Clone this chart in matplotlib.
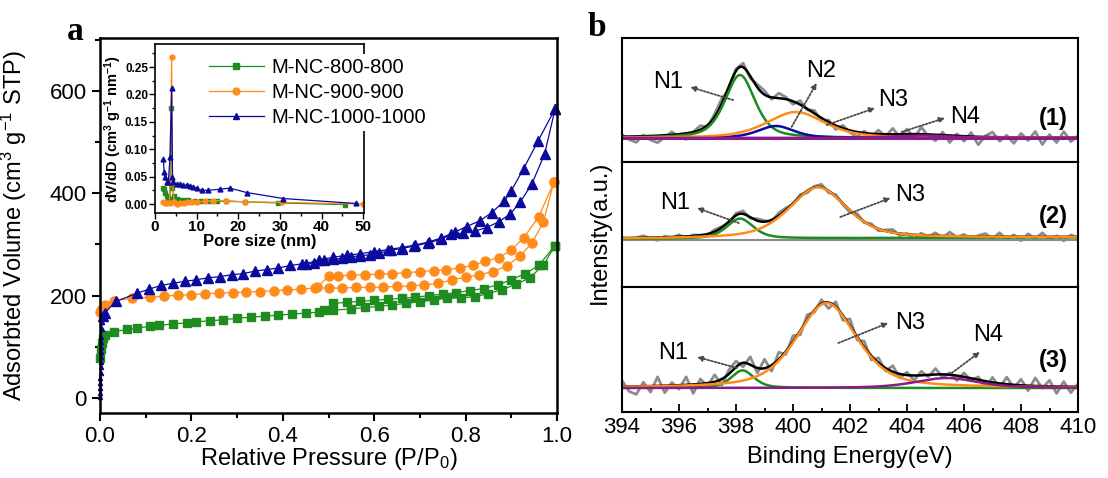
import numpy as np
import matplotlib.pyplot as plt
from matplotlib.ticker import MultipleLocator, FormatStrFormatter

plt.rcParams['font.family'] = ['Liberation Sans', 'DejaVu Sans']
plt.rcParams['mathtext.default'] = 'regular'

# ---------------- (a) N2 isotherms ----------------
p800_ads = [0.001, 0.002, 0.004, 0.007, 0.012, 0.03, 0.06, 0.08, 0.11, 0.13, 0.16, 0.19, 0.21, 0.24, 0.27,
            0.30, 0.33, 0.36, 0.39, 0.42, 0.45, 0.48, 0.51, 0.55, 0.58, 0.61, 0.64, 0.67, 0.70, 0.73,
            0.76, 0.79, 0.82, 0.85, 0.88, 0.91, 0.94, 0.97, 0.995]
v800_ads = [78, 96, 108, 117, 123, 130, 134, 137, 140, 142, 145, 147, 149, 151, 153,
            156, 158, 160, 162, 164, 166, 168, 172, 174, 177, 179, 182, 185, 188, 192,
            195, 196, 198, 204, 212, 222, 235, 259, 297]
p800_des = [0.995, 0.96, 0.93, 0.90, 0.87, 0.84, 0.81, 0.78, 0.75, 0.72, 0.69, 0.66, 0.63, 0.60, 0.57,
            0.54, 0.51, 0.49]
v800_des = [297, 259, 243, 231, 221, 214, 210, 206, 203, 200, 197, 195, 193, 191, 189,
            187, 185, 172]

p900_ads = [0.001, 0.003, 0.006, 0.012, 0.03, 0.07, 0.11, 0.14, 0.17, 0.20, 0.23, 0.26, 0.29, 0.32, 0.35,
            0.38, 0.41, 0.44, 0.47, 0.50, 0.53, 0.56, 0.59, 0.62, 0.65, 0.68, 0.71, 0.74, 0.77, 0.80,
            0.83, 0.86, 0.89, 0.92, 0.945, 0.97, 0.993]
v900_ads = [168, 173, 177, 182, 190, 195, 197, 199, 201, 202, 204, 205, 206, 207, 208,
            210, 211, 213, 215, 215, 215, 216, 216, 217, 218, 219, 221, 224, 231, 236,
            241, 247, 258, 278, 303, 343, 421]
p900_des = [0.993, 0.96, 0.927, 0.90, 0.872, 0.842, 0.816, 0.787, 0.758, 0.73, 0.70, 0.67, 0.64, 0.61,
            0.58, 0.55, 0.52, 0.50, 0.475]
v900_des = [421, 354, 313, 289, 274, 267, 259, 254, 251, 249, 247, 245, 243, 242,
            241, 240, 239, 238, 216]

# dense low-pressure points of M-NC-1000-1000
p1000_low = [0.0002, 0.0004, 0.0006, 0.0008, 0.001, 0.0012, 0.0014, 0.0016, 0.0018, 0.002, 0.0024,
             0.0028, 0.0032, 0.004, 0.005]
v1000_low = [2, 10, 20, 30, 40, 50, 60, 70, 80, 90, 100, 110, 120, 135, 148]
p1000_ads = [0.006, 0.01, 0.035, 0.082, 0.108, 0.134, 0.159, 0.185, 0.211, 0.236, 0.262, 0.288, 0.313,
             0.339, 0.365, 0.39, 0.416, 0.442, 0.468, 0.49, 0.51, 0.53, 0.55, 0.57, 0.59, 0.61, 0.637,
             0.66, 0.688, 0.717, 0.747, 0.769, 0.794, 0.82, 0.846, 0.872, 0.897, 0.919, 0.945, 0.973, 0.996]
v1000_ads = [160, 166, 189, 205, 213, 220, 224, 228, 231, 235, 237, 241, 243,
             248, 251, 254, 259, 262, 264, 269, 271, 273, 276, 278, 280, 283, 289,
             292, 297, 303, 310, 320, 322, 326, 333, 344, 359, 382, 418, 477, 565]
p1000_des = [0.996, 0.958, 0.927, 0.90, 0.885, 0.857, 0.831, 0.802, 0.776, 0.747, 0.72, 0.69, 0.66,
             0.63, 0.60, 0.57, 0.54, 0.51, 0.48, 0.45]
v1000_des = [565, 501, 448, 405, 385, 362, 346, 335, 324, 313, 305, 299, 294,
             290, 286, 282, 279, 275, 270, 262]

# inset: pore size distribution (nm, cm3 g-1 nm-1)
d800 = [1.9, 2.1, 2.4, 2.8, 3.2, 3.6, 3.9, 4.2, 4.5, 5.2, 6.0, 7.0, 8.0, 9.5, 11.0, 13.0, 15.0, 17.0,
        21.5, 29.5, 45.6]
dv800 = [0.030, 0.027, 0.020, 0.014, 0.011, 0.010, 0.175, 0.030, 0.014, 0.010, 0.008, 0.007, 0.007,
         0.006, 0.006, 0.006, 0.005, 0.005, 0.004, 0.002, -0.001]
d900 = [2.0, 2.5, 3.0, 3.5, 4.0, 4.2, 4.6, 5.4, 6.0, 7.0, 8.0, 9.0, 10.0, 12.0, 14.0, 17.0, 21.5, 30.5, 50.0]
dv900 = [0.003, 0.001, 0.001, 0.002, 0.268, 0.040, 0.003, 0.000, 0.001, 0.002, 0.003, 0.004, 0.004,
         0.005, 0.006, 0.006, 0.004, 0.003, 0.000]
d1000 = [2.0, 2.2, 2.4, 2.8, 3.2, 3.6, 4.0, 4.2, 4.4, 5.2, 6.0, 6.8, 7.6, 8.4, 9.2, 10.0, 11.2, 12.8,
         15.6, 18.0, 22.0, 30.8, 48.3]
dv1000 = [0.082, 0.059, 0.050, 0.041, 0.040, 0.085, 0.211, 0.050, 0.040, 0.036, 0.036, 0.035, 0.034,
          0.033, 0.031, 0.029, 0.025, 0.025, 0.027, 0.029, 0.021, 0.010, 0.001]

names = ['M-NC-800-800', 'M-NC-900-900', 'M-NC-1000-1000']

# ---------------- (b) N 1s XPS ----------------
# fitted peaks: centre (eV), height (a.u.), FWHM (eV)
s1_center = [398.14, 399.4, 400.1, 404.5]
s1_height = [63, 12, 26, 2.5]
s1_fwhm = [1.25, 1.5, 2.4, 2.5]
s2_center = [398.14, 400.88]
s2_height = [20, 51]
s2_fwhm = [1.1, 2.4]
s2_bg = [1.0, 2.7]   # linear background at 394 / 410 eV
s3_center = [398.23, 401.18, 405.39]
s3_height = [17.6, 85, 10]
s3_fwhm = [0.95, 2.5, 2.6]

# raw spectra: deviation of the measured (grey) trace from the fit, every 0.25 eV from 394 to 410
res1 = [2, -3, -6, 1, -4, -7, -2, 3, -3, -6, 0, 4, -2, 3, 5, -3, 2, 4, -2, 3, 4, -2, 5, 2, -3, 4, -1, 3,
        -3, 2, -4, 3, -2, -5, 2, -3, 4, -2, 6, -3, 5, -4, 7, -2, -6, 3, -7, 2, -5, 4, -8, 1,
        5, -4, 2, -6, 4, -3, 6, -7, 3, -5, 6, -4, 2]
res2 = [1, -2, 0, 2, -1, -3, 1, -1, 2, -2, 1, 0, -1, 2, 1, -2, 2, 3, -1, 2, 1, -2, 3, 2, -1, 2, -2, 1,
        3, -2, 2, -1, -2, 3, -1, 2, -2, 1, 3, -2, 1, -4, 2, -1, 3, -2, 4, -1, 2, -3, 1, 3,
        -2, 4, -3, 2, -4, 3, -2, 4, -3, 1, -4, 2, -1]
res3 = [6, -5, -8, 4, -6, 9, -7, 3, -4, 8, -9, 5, -3, 7, -6, 4, 6, -4, 8, -5, 9, -6, 7, -3, 6, -4, 5, -2,
        4, -6, 5, -5, 7, -3, 6, -4, 5, -3, 6, -4, 3, -5, 4, -2, 6, -3, 2, -5, 4, -2, 3, -6,
        5, -4, 7, -3, 6, -5, 8, -2, 6, -7, 5, -6, 3]

green = '#1e8c1e'
orange = '#ff8c1a'
navy = '#0a0a9e'
purple = '#8b1a8b'
grey = '#8c8c8c'

W, H = 1108, 478
def box(l, t, r, b):
    return [l / W, 1 - b / H, (r - l) / W, (b - t) / H]

fig = plt.figure(figsize=(W / 100, H / 100), dpi=100)

# ---- panel a ----
ax = fig.add_axes(box(100, 38, 557, 413))
kw = dict(lw=0.9, clip_on=False)
ax.plot(p800_ads, v800_ads, 's-', color=green, ms=5.5, **kw)
ax.plot(p800_des, v800_des, 's-', color=green, ms=5.5, **kw)
ax.plot(p900_ads, v900_ads, 'o-', color=orange, ms=6.5, **kw)
ax.plot(p900_des, v900_des, 'o-', color=orange, ms=6.5, **kw)
ax.plot(p1000_low, v1000_low, '^-', color=navy, ms=3, **kw)
ax.plot(p1000_ads, v1000_ads, '^-', color=navy, ms=7, **kw)
ax.plot(p1000_des, v1000_des, '^-', color=navy, ms=7, **kw)
ax.set_xlim(0, 1.0)
ax.set_ylim(-29, 703)
ax.xaxis.set_major_locator(MultipleLocator(0.2))
ax.xaxis.set_minor_locator(MultipleLocator(0.1))
ax.xaxis.set_major_formatter(FormatStrFormatter('%.1f'))
ax.yaxis.set_major_locator(MultipleLocator(200))
ax.yaxis.set_minor_locator(MultipleLocator(100))
ax.tick_params(which='both', direction='out', width=1.5, labelsize=16)
ax.tick_params(which='major', length=6)
ax.tick_params(which='minor', length=3.5)
for s in ax.spines.values():
    s.set_linewidth(1.8)
ax.set_xlabel('Relative Pressure (P/P$_0$)', fontsize=17)
ax.set_ylabel('Adsorbted Volume (cm$^3$ g$^{-1}$ STP)', fontsize=17)
ax.xaxis.set_label_coords(0.5, -0.088)
ax.yaxis.set_label_coords(-0.155, 0.5)
fig.text(75 / W, 1 - 32 / H, 'a', family='Liberation Serif', weight='bold', fontsize=24,
         ha='center', va='center')

# ---- inset ----
iax = fig.add_axes(box(155, 44, 364, 213))
h1, = iax.plot(d800, dv800, 's-', color=green, ms=3, lw=0.9)
h2, = iax.plot(d900, dv900, 'o-', color=orange, ms=3.5, lw=0.9)
h3, = iax.plot(d1000, dv1000, '^-', color=navy, ms=3.5, lw=0.9)
iax.set_xlim(0, 50.2)
iax.set_ylim(-0.0164, 0.292)
iax.xaxis.set_major_locator(MultipleLocator(10))
iax.xaxis.set_minor_locator(MultipleLocator(5))
iax.yaxis.set_major_locator(MultipleLocator(0.05))
iax.yaxis.set_minor_locator(MultipleLocator(0.025))
iax.yaxis.set_major_formatter(FormatStrFormatter('%.2f'))
iax.tick_params(which='both', direction='out', width=1.0)
iax.tick_params(which='major', length=4)
iax.tick_params(which='minor', length=2)
iax.tick_params(axis='x', labelsize=11, pad=1)
iax.tick_params(axis='y', labelsize=8.5, pad=1)
for lab in iax.get_xticklabels() + iax.get_yticklabels():
    lab.set_fontweight('bold')
for s in iax.spines.values():
    s.set_linewidth(1.2)
iax.set_xlabel('Pore size (nm)', fontsize=12, weight='bold', labelpad=0)
iax.set_ylabel('dV/dD (cm$^3$ g$^{-1}$ nm$^{-1}$)', fontsize=10.5, weight='bold', labelpad=1)
iax.legend([h1, h2, h3], names, loc='upper left', bbox_to_anchor=(0.24, 0.94), fontsize=14.5,
           frameon=True, facecolor='white', edgecolor='none', framealpha=1, handlelength=2.7,
           handletextpad=0.4, labelspacing=0.3, borderpad=0.2, borderaxespad=0, markerscale=1.4)

# ---- panel b ----
def pv(x, c, h, w, eta=0.5):
    x = np.asarray(x, dtype=float)
    g = np.exp(-4 * np.log(2) * ((x - c) / w) ** 2)
    l = 1 / (1 + 4 * ((x - c) / w) ** 2)
    return h * (eta * l + (1 - eta) * g)

be = np.linspace(394, 410, 801)
raw_be = np.arange(394, 410.001, 0.25)

bboxes = [box(622, 38, 1078, 162), box(622, 162, 1078, 287), box(622, 287, 1078, 412)]
ylims = [(-24, 100), (-47, 78), (-24, 101)]
bax = [fig.add_axes(b) for b in bboxes]

arrow_kw = dict(arrowstyle='-|>', color='#4a4a4a', lw=1.3, linestyle=(0, (1, 1)),
                mutation_scale=8, shrinkA=0, shrinkB=0)

def label(a, txt, pos, tail, head):
    a.annotate('', xy=head, xytext=tail, arrowprops=arrow_kw)
    a.text(pos[0], pos[1], txt, fontsize=17, ha='center', va='center')

# spectrum (1)
a = bax[0]
comps = [pv(be, c, h, w) for c, h, w in zip(s1_center, s1_height, s1_fwhm)]
env = np.sum(comps, axis=0)
raw = np.sum([pv(raw_be, c, h, w) for c, h, w in zip(s1_center, s1_height, s1_fwhm)], axis=0) + res1
a.plot(raw_be, raw, color=grey, lw=2)
a.plot(be, env, color='black', lw=1.8)
for comp, col in zip(comps, [green, navy, orange, purple]):
    a.plot(be, comp, color=col, lw=1.8)
a.axhline(0, color=purple, lw=2.2)
label(a, 'N1', (395.62, 56), (397.9, 38), (396.39, 51))
label(a, 'N2', (400.97, 67), (399.95, 11), (400.83, 55))
label(a, 'N3', (403.52, 38), (401.18, 13), (402.88, 30))
label(a, 'N4', (406.04, 21), (403.81, 6), (405.33, 20))
a.text(409.13, 20, '(1)', fontsize=17, weight='bold', ha='center', va='center')

# spectrum (2)
a = bax[1]
bg = np.interp(be, [394, 410], s2_bg)
comps = [bg + pv(be, c, h, w) for c, h, w in zip(s2_center, s2_height, s2_fwhm)]
env = bg + np.sum([pv(be, c, h, w) for c, h, w in zip(s2_center, s2_height, s2_fwhm)], axis=0)
raw_bg = np.interp(raw_be, [394, 410], s2_bg)
raw = raw_bg + np.sum([pv(raw_be, c, h, w) for c, h, w in zip(s2_center, s2_height, s2_fwhm)], axis=0) + res2
a.plot(raw_be, raw, color=grey, lw=2)
a.axhline(0, color=grey, lw=1.5)
a.plot(be, env, color='black', lw=1.8)
for comp, col in zip(comps, [green, orange]):
    a.plot(be, comp, color=col, lw=1.8)
label(a, 'N1', (395.87, 37), (398.1, 17), (396.63, 32))
label(a, 'N3', (404.12, 45), (401.66, 23), (403.42, 42))
a.text(409.15, 23, '(2)', fontsize=17, weight='bold', ha='center', va='center')

# spectrum (3)
a = bax[2]
comps = [pv(be, c, h, w) for c, h, w in zip(s3_center, s3_height, s3_fwhm)]
env = np.sum(comps, axis=0)
raw = np.sum([pv(raw_be, c, h, w) for c, h, w in zip(s3_center, s3_height, s3_fwhm)], axis=0) + res3
a.plot(raw_be, raw, color=grey, lw=2)
a.plot(be, env, color='black', lw=1.8)
for comp, col in zip(comps, [green, orange, purple]):
    a.plot(be, comp, color=col, lw=1.8)
label(a, 'N1', (395.81, 35), (398.04, 20), (396.63, 31))
label(a, 'N3', (404.1, 65), (401.59, 45), (403.34, 65))
label(a, 'N4', (406.85, 53), (405.57, 15), (406.56, 36))
a.text(409.13, 28, '(3)', fontsize=17, weight='bold', ha='center', va='center')

for a, yl in zip(bax, ylims):
    a.set_xlim(394, 410)
    a.set_ylim(*yl)
    a.set_yticks([])
    for s in a.spines.values():
        s.set_linewidth(1.5)
    a.xaxis.set_major_locator(MultipleLocator(2))
    a.xaxis.set_minor_locator(MultipleLocator(1))
    a.tick_params(axis='x', which='both', direction='in', width=1.3, labelsize=16, top=False)
    a.tick_params(axis='x', which='major', length=6)
    a.tick_params(axis='x', which='minor', length=3)
for a in bax[:2]:
    a.tick_params(axis='x', which='both', bottom=False, labelbottom=False)
bax[2].set_xlabel('Binding Energy(eV)', fontsize=17, labelpad=6)
fig.text(600 / W, 1 - 232 / H, 'Intensity(a.u.)', rotation=90, fontsize=17, ha='center', va='center')
fig.text(597 / W, 1 - 28 / H, 'b', family='Liberation Serif', weight='bold', fontsize=24,
         ha='center', va='center')

fig.savefig('out.png', dpi=100)
